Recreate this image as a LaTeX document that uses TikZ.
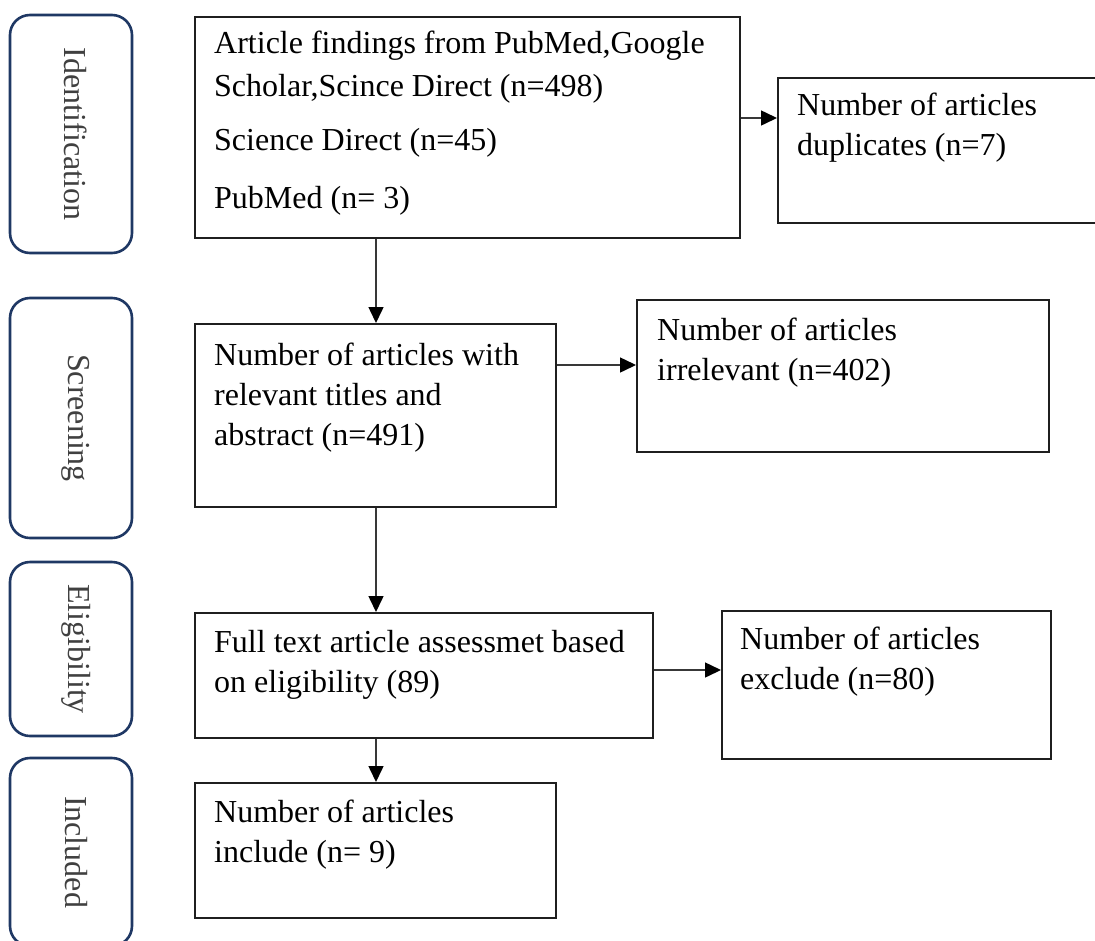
\documentclass[tikz,border=0pt]{standalone}
\usepackage{fontspec}
\setmainfont{Liberation Serif}
\usetikzlibrary{arrows.meta,calc}
\definecolor{phasenavy}{RGB}{31,56,100}
\definecolor{labelgray}{RGB}{64,64,64}
\newcommand{\boxlines}[1]{\parbox[t]{700pt}{\raggedright #1}}
\begin{document}
\begin{tikzpicture}[x=1pt,y=-1pt,
  phase/.style={draw=phasenavy, line width=2.6pt, rounded corners=20pt, minimum width=122pt, inner sep=0pt},
  phaselabel/.style={text=labelgray, font=\fontsize{32}{38}\selectfont, rotate=-90, inner sep=0pt},
  box/.style={draw=black!88, line width=1.5pt, anchor=north west, inner sep=0pt},
  boxtext/.style={anchor=base west, inner sep=0pt, font=\fontsize{32}{40}\selectfont},
  conn/.style={draw=black!78, line width=1.5pt},
  arrow/.style={conn, -{Triangle[length=16pt,width=15pt,fill=black,color=black]}},
]
\clip (0,0) rectangle (1095,940);
\fill[white] (0,0) rectangle (1095,940);

% phase boxes
\node[phase, minimum height=238pt] (id) at (71,134) {};
\node[phase, minimum height=240pt] (sc) at (71,418) {};
\node[phase, minimum height=174pt] (el) at (71,649) {};
\node[phase, minimum height=188pt] (in) at (71,852) {};
\node[phaselabel] (idt) at ($(id.center)+(5,0)$) {Identification};
\node[phaselabel] (sct) at ($(sc.center)+(5,0)$) {Screening};
\node[phaselabel] (elt) at ($(el.center)+(5,0)$) {Eligibility};
\node[phaselabel] (int) at ($(in.center)+(5,0)$) {Included};

% content boxes
\node[box, minimum width=545pt, minimum height=221pt] (b1) at (194,16) {};
\node[box, minimum width=340pt, minimum height=145pt] (dup) at (777,77) {};
\node[box, minimum width=361pt, minimum height=183pt] (b2) at (194,323) {};
\node[box, minimum width=412pt, minimum height=152pt] (irr) at (636,299) {};
\node[box, minimum width=458pt, minimum height=125pt] (b4) at (194,612) {};
\node[box, minimum width=329pt, minimum height=148pt] (exc) at (721,610) {};
\node[box, minimum width=361pt, minimum height=135pt] (inc) at (194,782) {};

% texts
\node[boxtext, font=\fontsize{32}{43}\selectfont] (b1t) at ($(b1.north west)+(20,37)$)
  {\boxlines{Article findings from PubMed,Google\\Scholar,Scince Direct (n=498)\\[11pt]Science Direct (n=45)\\[15pt]PubMed (n= 3)}};
\node[boxtext] (dupt) at ($(dup.north west)+(20,38)$) {\boxlines{Number of articles\\duplicates (n=7)}};
\node[boxtext] (b2t) at ($(b2.north west)+(20,42)$) {\boxlines{Number of articles with\\relevant titles and\\abstract (n=491)}};
\node[boxtext] (irrt) at ($(irr.north west)+(21,41)$) {\boxlines{Number of articles\\irrelevant (n=402)}};
\node[boxtext] (b4t) at ($(b4.north west)+(20,40)$) {\boxlines{Full text article assessmet based\\on eligibility (89)}};
\node[boxtext] (exct) at ($(exc.north west)+(19,39)$) {\boxlines{Number of articles\\exclude (n=80)}};
\node[boxtext] (inct) at ($(inc.north west)+(20,40)$) {\boxlines{Number of articles\\include (n= 9)}};

% connectors
\coordinate (a1) at ($(b1.north east)+(0,102)$);
\draw[arrow] (a1) -- (a1 -| dup.west);
\coordinate (a2) at ($(b1.south west)+(182,0)$);
\draw[arrow] (a2) -- (a2 |- b2.north);
\coordinate (a3) at ($(b2.north east)+(0,42)$);
\draw[arrow] (a3) -- (a3 -| irr.west);
\coordinate (a4) at ($(b2.south west)+(182,0)$);
\draw[arrow] (a4) -- (a4 |- b4.north);
\coordinate (a5) at ($(b4.north east)+(0,58)$);
\draw[arrow] (a5) -- (a5 -| exc.west);
\coordinate (a6) at ($(b4.south west)+(182,0)$);
\draw[arrow] (a6) -- (a6 |- inc.north);
\end{tikzpicture}
\end{document}
